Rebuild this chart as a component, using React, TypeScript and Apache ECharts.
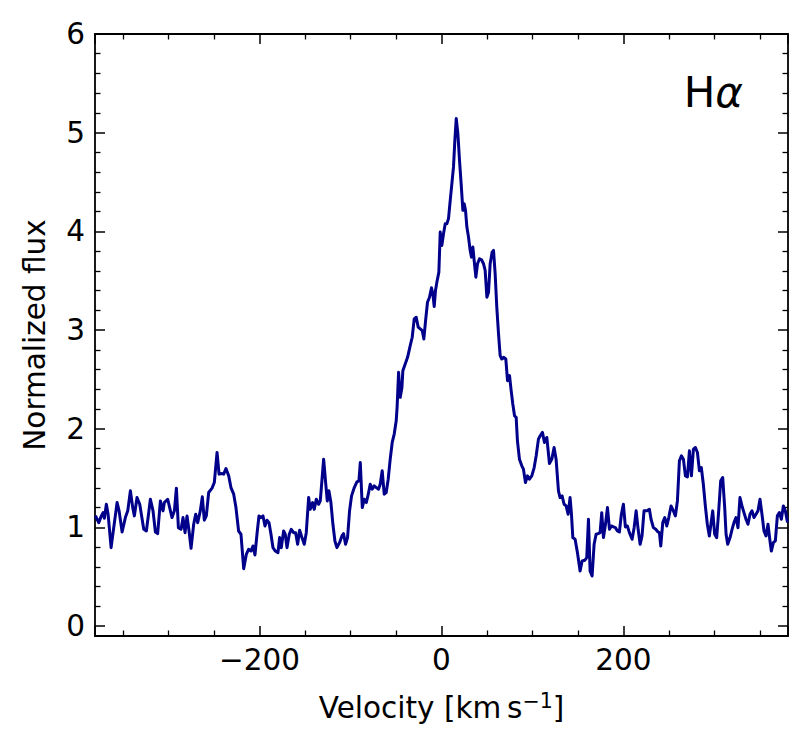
import React, { useEffect, useRef } from "react";
import * as echarts from "echarts";

const velocity = [
  -380.5, -378.7, -376.9, -374.0, -372.1, -370.7, -368.5, -366.6, -363.3, -360.4,
  -356.7, -354.5, -351.2, -347.6, -345.0, -342.1, -339.5, -337.7, -334.8, -331.8,
  -327.4, -324.5, -320.1, -317.2, -314.6, -312.1, -309.1, -306.2, -304.7, -301.1,
  -296.3, -293.7, -291.5, -289.3, -286.4, -284.2, -282.0, -279.8, -277.6, -275.4,
  -272.5, -270.3, -268.1, -265.2, -263.0, -260.8, -258.6, -256.0, -252.3, -249.8,
  -246.8, -244.6, -241.4, -239.5, -237.0, -234.0, -231.5, -228.5, -226.0, -223.1,
  -220.5, -217.5, -214.6, -212.1, -209.5, -207.3, -205.1, -202.9, -200.7, -198.5,
  -196.3, -194.1, -191.9, -189.7, -187.5, -185.3, -182.7, -179.8, -178.0, -176.2,
  -173.6, -171.8, -169.9, -167.4, -165.2, -162.6, -160.4, -158.2, -156.0, -153.4,
  -150.9, -148.7, -146.1, -144.3, -141.7, -139.9, -137.7, -135.1, -133.3, -131.5,
  -129.6, -127.4, -125.6, -123.8, -121.6, -119.4, -117.2, -115.0, -112.1, -109.5,
  -107.7, -105.5, -103.3, -101.1, -98.9, -95.9, -93.0, -90.8, -89.3, -87.1,
  -84.9, -82.7, -80.5, -78.4, -76.2, -74.0, -71.8, -69.2, -67.4, -65.2,
  -63.0, -60.8, -58.6, -56.4, -54.2, -52.0, -49.8, -48.8, -47.2, -45.4,
  -43.5, -42.5, -39.9, -37.3, -34.4, -32.2, -30.0, -27.8, -25.6, -23.4,
  -21.2, -19.4, -17.5, -15.4, -13.2, -11.0, -9.5, -8.0, -6.6, -5.1,
  -2.9, -1.4, 0.4, 2.2, 4.1, 5.9, 7.7, 9.6, 11.4, 13.2,
  14.7, 16.2, 18.0, 19.8, 21.6, 23.5, 24.9, 26.4, 27.9, 29.7,
  31.5, 33.0, 34.5, 35.9, 37.8, 39.6, 41.8, 44.0, 46.2, 48.0,
  49.9, 51.7, 53.5, 55.7, 57.2, 59.0, 60.8, 62.7, 64.5, 66.3,
  68.2, 70.7, 72.6, 74.8, 76.6, 78.4, 80.3, 82.1, 83.5, 85.7,
  88.3, 90.1, 92.3, 94.5, 96.7, 99.3, 101.9, 104.1, 106.6, 108.5,
  111.0, 113.2, 115.8, 118.7, 121.3, 123.8, 126.0, 128.6, 130.4, 132.6,
  134.8, 137.0, 139.2, 141.4, 142.9, 144.4, 146.9, 149.5, 152.4, 154.6,
  157.5, 159.7, 161.6, 163.4, 165.6, 167.8, 170.0, 172.2, 174.4, 176.2,
  178.1, 180.3, 182.5, 184.7, 186.8, 189.0, 191.2, 193.4, 195.6, 197.8,
  200.0, 202.2, 204.4, 206.6, 209.6, 211.8, 214.0, 216.2, 218.4, 220.5,
  222.7, 225.7, 228.6, 230.4, 233.0, 235.6, 237.8, 239.6, 241.1, 243.3,
  245.5, 247.7, 249.9, 252.4, 255.0, 257.2, 259.4, 261.6, 263.8, 266.0,
  268.2, 270.4, 272.6, 274.8, 277.0, 279.2, 281.4, 283.6, 285.7, 287.9,
  290.1, 292.3, 294.5, 296.0, 298.2, 300.4, 302.6, 304.8, 307.0, 309.2,
  311.4, 312.9, 314.7, 317.3, 319.5, 321.6, 323.8, 326.0, 328.2, 330.4,
  332.6, 334.8, 337.0, 339.2, 341.4, 343.6, 345.8, 348.0, 350.2, 352.4,
  354.6, 356.8, 359.0, 361.2, 362.7, 364.9, 367.1, 369.3, 371.5, 373.7,
  375.9, 378.1, 380.5,
];

const flux = [
  1.12, 1.083, 1.049, 1.117, 1.15, 1.093, 1.235, 1.134, 0.795, 0.998,
  1.252, 1.168, 0.954, 1.1, 1.168, 1.371, 1.201, 1.117, 1.303, 1.235,
  0.981, 0.964, 1.286, 1.168, 0.954, 0.937, 1.269, 1.168, 1.252, 1.286,
  1.1, 1.168, 1.398, 0.998, 0.981, 1.1, 0.947, 1.117, 0.964, 0.788,
  1.032, 1.134, 1.049, 1.168, 1.31, 1.073, 1.117, 1.354, 1.398, 1.455,
  1.76, 1.54, 1.546, 1.54, 1.597, 1.523, 1.404, 1.337, 1.201, 0.964,
  0.931, 0.582, 0.728, 0.779, 0.761, 0.812, 0.721, 0.931, 1.117, 1.1,
  1.117, 1.015, 1.073, 1.049, 0.931, 0.795, 0.761, 0.744, 0.897, 0.795,
  0.964, 0.931, 0.795, 0.931, 0.981, 0.947, 0.947, 0.829, 0.971, 0.897,
  0.829, 0.947, 1.303, 1.184, 1.252, 1.184, 1.286, 1.235, 1.269, 1.472,
  1.692, 1.455, 1.269, 1.371, 1.252, 1.032, 0.863, 0.795, 0.846, 0.914,
  0.937, 0.829, 0.897, 1.168, 1.32, 1.404, 1.462, 1.472, 1.658, 1.201,
  1.286, 1.252, 1.337, 1.438, 1.388, 1.421, 1.404, 1.388, 1.438, 1.574,
  1.337, 1.354, 1.489, 1.692, 1.861, 1.946, 2.081, 2.22, 2.572, 2.318,
  2.419, 2.589, 2.657, 2.724, 2.843, 2.927, 3.114, 3.13, 3.029, 3.012,
  2.995, 2.91, 3.096, 3.282, 3.333, 3.428, 3.367, 3.239, 3.401, 3.485,
  3.587, 3.993, 3.858, 3.976, 4.078, 4.078, 4.129, 4.315, 4.484, 4.653,
  4.924, 5.144, 4.992, 4.721, 4.484, 4.213, 4.281, 4.213, 4.044, 3.942,
  3.807, 3.739, 3.841, 3.706, 3.536, 3.672, 3.723, 3.712, 3.672, 3.604,
  3.333, 3.384, 3.672, 3.79, 3.807, 3.57, 3.232, 2.961, 2.741, 2.707,
  2.724, 2.707, 2.487, 2.538, 2.386, 2.251, 2.132, 2.115, 1.878, 1.692,
  1.624, 1.591, 1.455, 1.523, 1.489, 1.523, 1.607, 1.726, 1.895, 1.929,
  1.963, 1.861, 1.912, 1.648, 1.692, 1.81, 1.692, 1.371, 1.303, 1.32,
  1.235, 1.218, 1.134, 1.303, 1.134, 0.897, 0.88, 0.744, 0.558, 0.66,
  0.667, 0.694, 1.083, 0.558, 0.508, 0.829, 0.931, 0.937, 0.947, 1.15,
  0.897, 1.032, 1.201, 0.981, 1.015, 1.005, 0.998, 0.964, 0.954, 1.134,
  1.235, 1.005, 1.015, 0.947, 0.88, 0.998, 1.168, 0.981, 0.829, 0.914,
  1.168, 1.168, 1.184, 1.083, 0.998, 0.981, 0.957, 0.947, 0.812, 1.049,
  1.1, 1.015, 1.1, 1.218, 1.168, 1.117, 1.269, 1.675, 1.726, 1.692,
  1.523, 1.513, 1.777, 1.523, 1.794, 1.81, 1.76, 1.574, 1.607, 1.438,
  1.218, 1.032, 0.914, 1.015, 1.168, 0.931, 0.897, 1.168, 1.472, 1.506,
  1.201, 0.931, 0.829, 0.897, 0.981, 1.049, 1.1, 0.998, 1.303, 1.218,
  1.15, 1.083, 1.032, 1.134, 1.168, 1.1, 1.134, 1.168, 1.286, 1.134,
  0.964, 0.914, 1.032, 0.863, 0.761, 0.846, 0.863, 1.117, 1.15, 1.083,
  1.218, 1.168, 1.05,
];

const xRange = [-381, 381];
const yRange = [-0.1, 6];
const xMajor = 200;
const yMajor = 1;
const xNameMain = "Velocity [km\u2009s";
const xNameSup = "\u22121";
const xNameEnd = "]";
const yName = "Normalized flux";

const FONT = "DejaVu Sans";

export default function App() {
  const ref = useRef<HTMLDivElement>(null);

  useEffect(() => {
    if (!ref.current) return;
    const chart = echarts.init(ref.current, undefined, { renderer: "svg" });
    const axisLineStyle = { color: "#000", width: 1.8 };
    const tickStyle = { color: "#000", width: 1.5 };
    const minorStyle = { color: "#000", width: 1.3 };
    const isMult = (v: number, m: number) => Math.abs(v / m - Math.round(v / m)) < 1e-6;
    const fmtX = (v: number) =>
      isMult(v, xMajor) ? (v < 0 ? "\u2212" + Math.abs(v) : String(v)) : "";
    const fmtY = (v: number) => (isMult(v, yMajor) ? String(Math.round(v)) : "");

    const baseX = {
      type: "value" as const,
      min: xRange[0],
      max: xRange[1],
      minInterval: xMajor,
      maxInterval: xMajor,
      splitNumber: 4,
      axisLine: { show: true, onZero: false, lineStyle: axisLineStyle },
      axisTick: { show: true, inside: true, length: 10, lineStyle: tickStyle },
      minorTick: { show: true, splitNumber: 4, length: 5.5, lineStyle: minorStyle },
      splitLine: { show: false },
      minorSplitLine: { show: false },
    };
    const baseY = {
      type: "value" as const,
      min: yRange[0],
      max: yRange[1],
      minInterval: yMajor,
      maxInterval: yMajor,
      splitNumber: 6,
      axisLine: { show: true, onZero: false, lineStyle: axisLineStyle },
      axisTick: { show: true, inside: true, length: 10, lineStyle: tickStyle },
      minorTick: { show: true, splitNumber: 5, length: 5.5, lineStyle: minorStyle },
      splitLine: { show: false },
      minorSplitLine: { show: false },
    };

    chart.setOption({
      animation: false,
      backgroundColor: "#fff",
      grid: { left: 95, right: 22, top: 34, bottom: 113, containLabel: false },
      xAxis: [
        {
          ...baseX,
          position: "bottom",
          axisLabel: {
            show: true,
            formatter: fmtX,
            color: "#000",
            fontFamily: FONT,
            fontSize: 29.5,
            margin: 9,
            showMinLabel: false,
            showMaxLabel: false,
          },
          name: "{m|" + xNameMain + "}{s|" + xNameSup + "}{m|" + xNameEnd + "}",
          nameLocation: "middle",
          nameGap: 51,
          nameTextStyle: {
            color: "#000",
            fontFamily: FONT,
            fontSize: 29.5,
            rich: {
              m: { fontFamily: FONT, fontSize: 29.5, color: "#000", lineHeight: 36, verticalAlign: "bottom" },
              s: { fontFamily: FONT, fontSize: 20.5, color: "#000", lineHeight: 36, verticalAlign: "bottom", padding: [0, 0, 12, 0] },
            },
          },
        },
        {
          ...baseX,
          position: "top",
          axisLabel: { show: false },
        },
      ],
      yAxis: [
        {
          ...baseY,
          position: "left",
          axisLabel: {
            show: true,
            formatter: fmtY,
            color: "#000",
            fontFamily: FONT,
            fontSize: 29.5,
            margin: 10,
          },
          name: yName,
          nameLocation: "middle",
          nameGap: 45,
          nameTextStyle: { color: "#000", fontFamily: FONT, fontSize: 29.5 },
        },
        {
          ...baseY,
          position: "right",
          axisLabel: { show: false },
        },
      ],
      graphic: [
        {
          type: "text",
          x: 743,
          y: 92,
          style: {
            text: "{h|H}{a|α}",
            align: "right",
            verticalAlign: "middle",
            rich: {
              h: { fontFamily: FONT, fontSize: 42, fill: "#000", color: "#000" },
              a: { fontFamily: FONT, fontSize: 42, fontStyle: "italic", fill: "#000", color: "#000" },
            },
          },
          z: 10,
        },
      ],
      series: [
        {
          type: "line",
          xAxisIndex: 0,
          yAxisIndex: 0,
          data: velocity.map((v, i) => [v, flux[i]]),
          showSymbol: false,
          symbol: "none",
          lineStyle: { color: "#00008b", width: 3, join: "round" },
          clip: true,
        },
      ],
    });
    return () => chart.dispose();
  }, []);

  return (
    <div
      ref={ref}
      style={{ position: "absolute", left: 0, top: 0, width: 810, height: 749, background: "#fff" }}
    />
  );
}
